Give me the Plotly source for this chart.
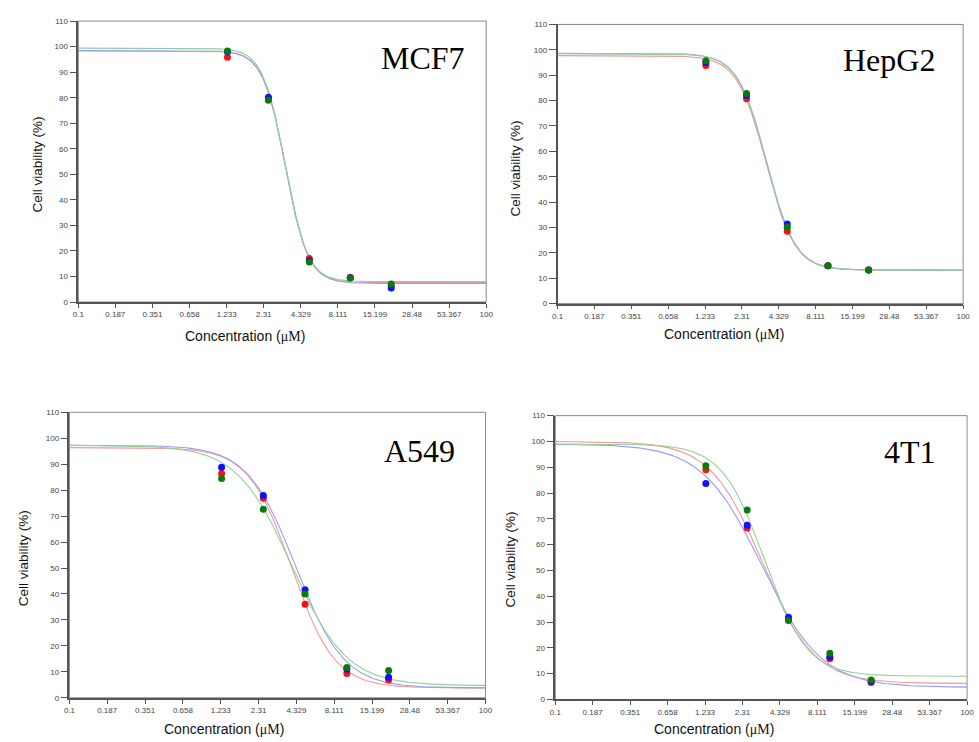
import numpy as np
import plotly.graph_objects as go

W, H = 979, 742

# ---------------- data ----------------
conc = [1.25, 2.5, 5, 10, 20]          # µM
x_tickvals = [0.1, 0.187, 0.351, 0.658, 1.233, 2.31, 4.329, 8.111, 15.199, 28.48, 53.367, 100]
x_ticktext = ["0.1", "0.187", "0.351", "0.658", "1.233", "2.31", "4.329", "8.111", "15.199", "28.48", "53.367", "100"]
y_tickvals = [0, 10, 20, 30, 40, 50, 60, 70, 80, 90, 100, 110]

panels = ["MCF7", "HepG2", "A549", "4T1"]
series = ["red", "blue", "green"]

# measured viability (%) per panel, per series (red, blue, green)
mcf7_red = [95.8, 79.6, 17.0, 9.7, 6.4]
mcf7_blue = [98.0, 80.2, 16.2, 9.5, 5.5]
mcf7_green = [98.3, 79.0, 15.7, 9.4, 7.1]

hepg2_red = [93.8, 80.7, 28.5, 14.9, 13.2]
hepg2_blue = [95.0, 82.0, 31.4, 14.9, 13.2]
hepg2_green = [95.7, 82.8, 30.1, 14.9, 13.2]

a549_red = [86.4, 76.9, 36.0, 9.4, 6.9]
a549_blue = [88.8, 77.9, 41.6, 11.0, 7.9]
a549_green = [84.5, 72.6, 40.0, 11.7, 10.5]

t41_red = [89.0, 66.5, 31.0, 15.8, 6.6]
t41_blue = [83.7, 67.5, 31.9, 16.5, 7.0]
t41_green = [90.6, 73.4, 30.6, 17.9, 7.5]

# fitted 4-parameter logistic curves: [top, bottom, IC50, Hill slope]
mcf7_fit_red = [98.3, 7.6, 3.33, 5.3]
mcf7_fit_blue = [98.5, 7.3, 3.35, 5.2]
mcf7_fit_green = [99.4, 8.0, 3.32, 5.3]

hepg2_fit_red = [97.7, 13.2, 3.48, 4.1]
hepg2_fit_blue = [98.6, 13.2, 3.52, 4.1]
hepg2_fit_green = [98.5, 13.2, 3.50, 4.1]

a549_fit_red = [96.4, 3.8, 4.0, 2.8]
a549_fit_blue = [97.3, 3.8, 4.28, 2.5]
a549_fit_green = [97.3, 4.7, 4.0, 2.2]

t41_fit_red = [100.0, 6.2, 3.22, 2.3]
t41_fit_blue = [99.0, 4.7, 3.2, 2.0]
t41_fit_green = [99.0, 9.0, 3.35, 2.8]

points = {
    "MCF7": [mcf7_red, mcf7_blue, mcf7_green],
    "HepG2": [hepg2_red, hepg2_blue, hepg2_green],
    "A549": [a549_red, a549_blue, a549_green],
    "4T1": [t41_red, t41_blue, t41_green],
}
fits = {
    "MCF7": [mcf7_fit_red, mcf7_fit_blue, mcf7_fit_green],
    "HepG2": [hepg2_fit_red, hepg2_fit_blue, hepg2_fit_green],
    "A549": [a549_fit_red, a549_fit_blue, a549_fit_green],
    "4T1": [t41_fit_red, t41_fit_blue, t41_fit_green],
}

# ---------------- styling ----------------
marker_colors = {"red": "#ff1010", "blue": "#1010ff", "green": "#0a7a0a"}
line_colors = {"red": "#f19a9a", "blue": "#9a9af5", "green": "#8fd09a"}

# plot-area boxes in pixels: left, right, top, bottom
boxes = {
    "MCF7": (73.3, 486.7, 17.3, 301.7),
    "HepG2": (559.0, 970.0, 20.7, 303.3),
    "A549": (64.3, 486.0, 413.3, 702.3),
    "4T1": (556.7, 974.0, 416.7, 704.0),
}
# title (right edge x, center y), x-label center, y-label center
title_pos = {"MCF7": (467, 55), "HepG2": (944, 57), "A549": (457, 452), "4T1": (945, 453)}
xlab_pos = {"MCF7": (242, 336), "HepG2": (728, 334), "A549": (221, 734), "4T1": (717.5, 734)}
ylab_pos = {"MCF7": (31, 163), "HepG2": (516.7, 166.7), "A549": (17.3, 561), "4T1": (511.7, 562.5)}


def px(x):
    return x / W


def py(y):
    return 1 - y / H


def logistic(x, p):
    top, bottom, ic50, hill = p
    return bottom + (top - bottom) / (1 + (x / ic50) ** hill)


fig = go.Figure()
xs = np.logspace(-1, 2, 400)
annotations = []
shapes = []

for i, name in enumerate(panels):
    k = "" if i == 0 else str(i + 1)
    xa, ya = "x" + k, "y" + k
    l, r, t, b = boxes[name]
    fig.update_layout({
        "xaxis" + k: dict(
            domain=[px(l), px(r)], type="log", range=[-1, 2], anchor=ya,
            tickmode="array", tickvals=x_tickvals, ticktext=x_ticktext,
            ticks="outside", ticklen=4, tickwidth=1, tickcolor="#555",
            showline=True, linecolor="#555", linewidth=1.5,
            showgrid=False, zeroline=False,
            tickfont=dict(family="Liberation Sans, Arial", size=8, color="#444"),
        ),
        "yaxis" + k: dict(
            domain=[py(b), py(t)], range=[0, 110], anchor=xa,
            tickmode="array", tickvals=y_tickvals,
            ticks="outside", ticklen=7, tickwidth=1, tickcolor="#555",
            showline=True, linecolor="#555", linewidth=1.5,
            showgrid=False, zeroline=False,
            tickfont=dict(family="Liberation Sans, Arial", size=8, color="#444"),
        ),
    })
    # frame (top/right border in grey)
    shapes.append(dict(type="rect", xref=xa + " domain", yref=ya + " domain",
                       x0=0, x1=1, y0=0, y1=1, line=dict(color="#8a8a8a", width=1),
                       layer="below"))
    # curves
    for s, p in zip(series, fits[name]):
        fig.add_trace(go.Scatter(x=xs, y=logistic(xs, p), mode="lines",
                                 line=dict(color=line_colors[s], width=1.1),
                                 xaxis=xa, yaxis=ya, showlegend=False, hoverinfo="skip"))
    # points
    for s, vals in zip(series, points[name]):
        fig.add_trace(go.Scatter(x=conc, y=vals, mode="markers",
                                 marker=dict(color=marker_colors[s], size=7),
                                 xaxis=xa, yaxis=ya, showlegend=False))
    # titles
    tx, ty = title_pos[name]
    annotations.append(dict(text=name, x=px(tx), y=py(ty), xref="paper", yref="paper",
                            xanchor="right", yanchor="middle", showarrow=False,
                            font=dict(family="Liberation Serif, Times New Roman", size=32, color="#000")))
    cx, cy = xlab_pos[name]
    annotations.append(dict(
        text='Concentration (<span style="font-family:Liberation Serif">μM</span>)',
        x=px(cx), y=py(cy), xref="paper", yref="paper",
        xanchor="center", yanchor="middle", showarrow=False,
        font=dict(family="Liberation Sans, Arial", size=14, color="#111")))
    lx, ly = ylab_pos[name]
    annotations.append(dict(text="Cell viability (%)", x=px(lx), y=py(ly),
                            xref="paper", yref="paper", xanchor="center", yanchor="middle",
                            textangle=-90, showarrow=False,
                            font=dict(family="Liberation Sans, Arial", size=13.5, color="#111")))

fig.update_layout(
    width=W, height=H, margin=dict(l=0, r=0, t=0, b=0),
    paper_bgcolor="white", plot_bgcolor="white",
    annotations=annotations, shapes=shapes, showlegend=False,
)

fig.write_html(
    "out.html",
    config={"displayModeBar": False},
    post_script="document.body.style.margin='0';document.body.style.padding='0';"
                "document.body.style.overflow='hidden';",
)
